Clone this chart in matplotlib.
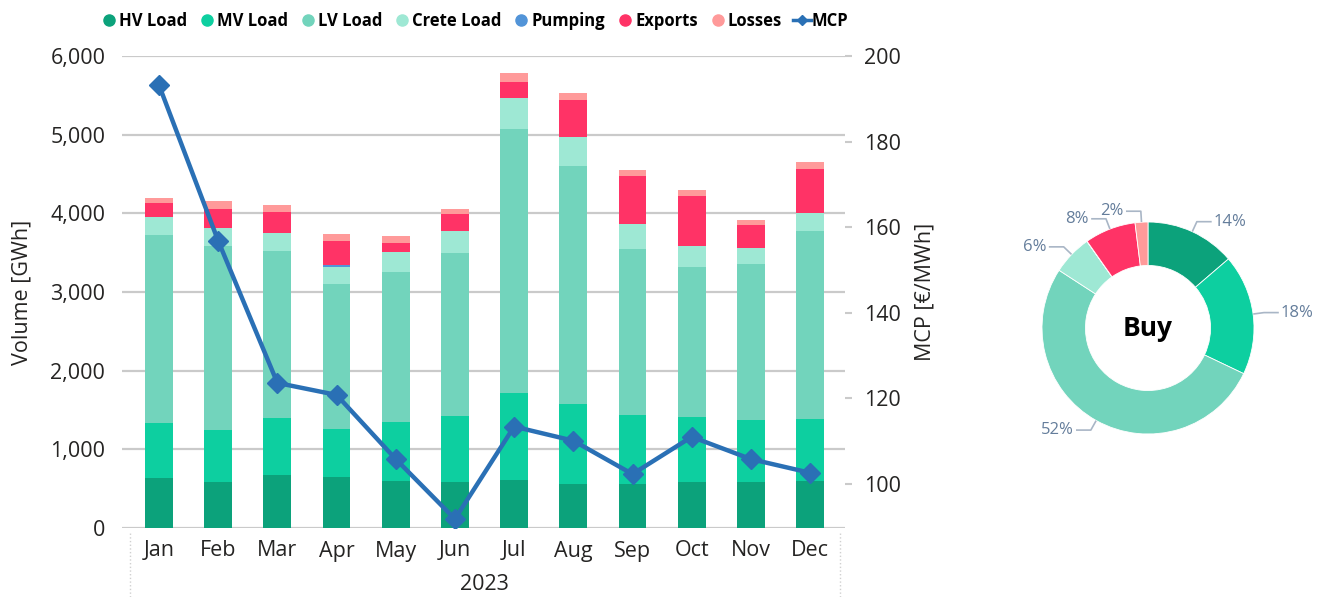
import matplotlib
matplotlib.use('Agg')
import matplotlib.pyplot as plt
import numpy as np
from matplotlib.lines import Line2D
from matplotlib.ticker import FuncFormatter

# ---------------- data ----------------
months = ['Jan', 'Feb', 'Mar', 'Apr', 'May', 'Jun', 'Jul', 'Aug', 'Sep', 'Oct', 'Nov', 'Dec']
year_label = '2023'
hv_load = [636, 581, 674, 644, 601, 589, 614, 563, 555, 589, 581, 601]
mv_load = [699, 669, 724, 614, 750, 835, 1102, 1013, 881, 822, 792, 785]
lv_load = [2389, 2335, 2127, 1843, 1907, 2076, 3356, 3026, 2110, 1907, 1983, 2393]
crete_load = [233, 232, 221, 221, 246, 271, 390, 372, 314, 267, 207, 225]
pumping = [0, 0, 0, 15, 0, 0, 0, 0, 0, 0, 0, 0]
exports = [178, 238, 267, 315, 118, 216, 212, 463, 619, 639, 285, 556]
losses = [64, 106, 97, 89, 85, 72, 110, 93, 76, 77, 71, 89]
mcp = [193.2, 156.8, 123.6, 120.8, 105.8, 91.8, 113.4, 110.1, 102.3, 111.0, 105.8, 102.6]

series_names = ['HV Load', 'MV Load', 'LV Load', 'Crete Load', 'Pumping', 'Exports', 'Losses']
series_colors = ['#0CA27B', '#0DCFA0', '#72D4BC', '#9EE8D4', '#5294D8', '#FF3366', '#FF9A9A']
mcp_color = '#2A70B5'
center_title = 'Buy'

# ---------------- figure ----------------
W, H = 1328, 597
plt.rcParams['font.family'] = ['Open Sans', 'DejaVu Sans']
fig = plt.figure(figsize=(W / 100, H / 100), dpi=100)
txt = '#252423'

ax = fig.add_axes([122 / W, 69 / H, 723 / W, 472 / H])
x = np.arange(len(months))
all_series = [hv_load, mv_load, lv_load, crete_load, pumping, exports, losses]
bottom = np.zeros(len(months))
for vals, col, name in zip(all_series, series_colors, series_names):
    v = np.array(vals, dtype=float)
    ax.bar(x, v, 0.47, bottom=bottom, color=col, label=name, zorder=2)
    bottom += v

ax.set_xlim(-0.625, 11.59)
ax.set_ylim(0, 6000)
ax.set_yticks(range(0, 6001, 1000))
ax.yaxis.set_major_formatter(FuncFormatter(lambda v, p: f'{v:,.0f}'))
ax.yaxis.grid(True, color='#CACACA', lw=1.6, zorder=0)
ax.set_axisbelow(True)
for s in ax.spines.values():
    s.set_visible(False)
ax.tick_params(axis='y', length=0, pad=12, labelsize=15.5, labelcolor=txt)
ax.set_xticks(x, months)
ax.tick_params(axis='x', length=0, pad=9, labelsize=15.5, labelcolor=txt)

ax2 = ax.twinx()
ax2.plot(x, mcp, color=mcp_color, lw=3.2, marker='D', ms=10, zorder=3)
ax2.set_ylim(89.7, 200)
ax2.set_yticks(range(100, 201, 20))
for s in ax2.spines.values():
    s.set_visible(False)
ax2.tick_params(axis='y', length=5, width=1.5, color='#CACACA', pad=9, labelsize=15.5, labelcolor=txt)

fig.text(22 / W, 1 - 292 / H, 'Volume [GWh]', rotation=90, ha='center', va='center', fontsize=15.5, color=txt)
fig.text(925 / W, 1 - 292 / H, 'MCP [€/MWh]', rotation=90, ha='center', va='center', fontsize=15.5, color=txt)
fig.text(484 / W, 1 - 585 / H, year_label, ha='center', va='center', fontsize=15.5, color=txt)

for xp in (130, 840):
    fig.add_artist(Line2D([xp / W, xp / W], [0, 66 / H], ls=':', color='#D0D0D0', lw=1, transform=fig.transFigure))

# legend
handles = [Line2D([], [], marker='o', ls='', color=c, ms=8) for c in series_colors]
handles.append(Line2D([], [], color=mcp_color, lw=2.5, marker='D', ms=5))
fig.legend(handles, series_names + ['MCP'], loc='center', bbox_to_anchor=(474 / W, 1 - 21 / H), ncol=8,
           frameon=False, prop={'weight': 'bold', 'size': 12}, handletextpad=0.05, columnspacing=0.65,
           handlelength=1.1, borderaxespad=0)

# ---------------- donut ----------------
totals = [sum(s) for s in all_series]
grand = sum(totals)
dax = fig.add_axes([990 / W, 97 / H, 338 / W, 350 / H])
cx, cy, R = 1148, 597 - 328, 106
dax.pie(totals, colors=series_colors, startangle=90, counterclock=False, radius=R, center=(cx, cy),
        wedgeprops=dict(width=R * 0.41, edgecolor='white', linewidth=0.6))
dax.set_xlim(990, 1328)
dax.set_ylim(97, 447)
dax.set_aspect('auto')
dax.axis('off')
dax.text(cx, cy, center_title, ha='center', va='center', fontsize=19, fontweight='bold', color='black')

lab_col = '#647D9B'
line_col = '#A9B6C6'
cum = 0.0
for t in totals:
    frac = t / grand
    pct = round(frac * 100)
    mid = np.deg2rad(90 - 360 * (cum + frac / 2))
    cum += frac
    if pct < 1:
        continue
    c, s = np.cos(mid), np.sin(mid)
    p0 = (cx + (R + 1) * c, cy + (R + 1) * s)
    p1 = (cx + (R + 11) * c, cy + (R + 11) * s)
    d = 1 if c >= 0 else -1
    p2 = (p1[0] + d * 14, p1[1])
    dax.plot([p0[0], p1[0], p2[0]], [p0[1], p1[1], p2[1]], color=line_col, lw=1.2, clip_on=False)
    dax.text(p2[0] + d * 3, p2[1], f'{pct}%', ha='left' if d > 0 else 'right', va='center',
             fontsize=12, color=lab_col)

fig.savefig('out.png', dpi=100)
